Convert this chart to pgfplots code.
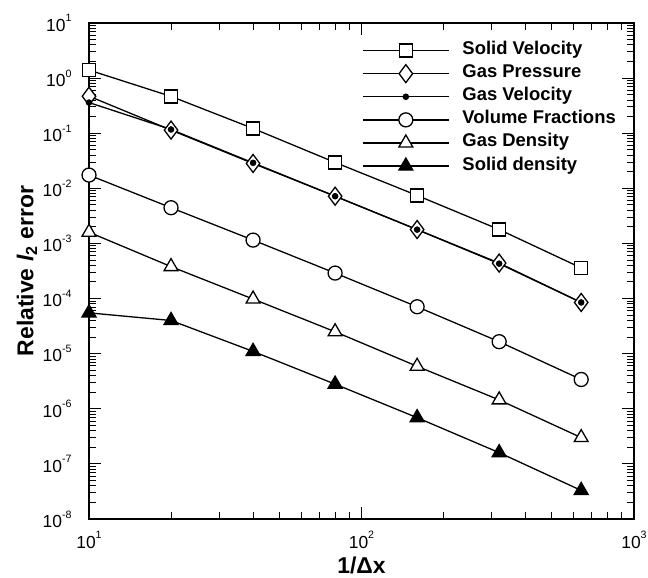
\documentclass[border=0pt]{standalone}
\usepackage{fontspec}
\setmainfont{Liberation Sans}
\usepackage{pgfplots}
\pgfplotsset{compat=1.18}

% 10^n in text font, with a small raised exponent
\newcommand{\tp}[1]{10\raisebox{0.53em}{\fontsize{10.7}{12}\selectfont #1}}

\begin{document}
\begin{tikzpicture}
\begin{axis}[
    scale only axis,
    width=545bp, height=496bp,
    xmode=log, ymode=log,
    xmin=10, xmax=1000,
    ymin=1e-8, ymax=10,
    axis line style={line width=1.6bp},
    tick pos=both,
    tick align=inside,
    major tick length=12bp,
    minor tick length=7bp,
    every tick/.style={black, line width=1bp},
    xtick={10,100,1000},
    xticklabels={\tp{1},\tp{2},\tp{3}},
    ytick={1e-8,1e-7,1e-6,1e-5,1e-4,1e-3,1e-2,1e-1,1,10},
    yticklabels={\tp{-8},\tp{-7},\tp{-6},\tp{-5},\tp{-4},\tp{-3},\tp{-2},\tp{-1},\tp{0},\tp{1}},
    tick label style={font=\fontsize{17.5}{20}\selectfont},
    xticklabel style={yshift=-9bp},
    yticklabel style={xshift=-14bp},
    xlabel={1/Δx},
    ylabel={Relative \textit{l}\textsubscript{2} error},
    xlabel style={at={(axis description cs:0.5,0)}, anchor=center, yshift=-46bp,
        font=\bfseries\fontsize{23}{26}\selectfont},
    ylabel style={at={(axis description cs:0,0.5)}, anchor=center, yshift=62bp,
        font=\bfseries\fontsize{23}{26}\selectfont},
    legend style={draw=none, fill=none, at={(0.4954,0.967)}, anchor=north west,
        font=\bfseries\fontsize{18.5}{22}\selectfont,
        nodes={inner sep=0pt, text height=13bp, text depth=5bp},
        row sep=5.1bp, column sep=13bp},
    legend cell align=left,
    legend image code/.code={%
        \draw[#1, mark repeat=2, mark phase=2] plot coordinates {(0bp,0bp) (43bp,0bp) (86bp,0bp)};},
    every axis plot/.append style={black, line width=1.3bp},
]
\addplot[mark=square*, mark size=6.5bp, mark options={fill=white, line width=1.3bp}] coordinates {
    (10,1.40) (20,0.466) (40,0.122) (80,0.0295) (160,0.00743) (320,0.00179) (640,0.00036)};
\addplot[mark=diamond*, mark size=9bp, mark options={fill=white, line width=1.3bp}] coordinates {
    (10,0.47) (20,0.114) (40,0.0283) (80,0.0072) (160,0.00179) (320,0.00044) (640,8.5e-5)};
\addplot[mark=*, mark size=2.6bp] coordinates {
    (10,0.36) (20,0.117) (40,0.029) (80,0.0072) (160,0.00178) (320,0.00043) (640,8.5e-5)};
\addplot[mark=*, mark size=7bp, mark options={fill=white, line width=1.3bp}] coordinates {
    (10,0.0174) (20,0.00445) (40,0.00115) (80,0.00029) (160,7.1e-5) (320,1.65e-5) (640,3.4e-6)};
\addplot[mark=triangle*, mark size=8bp, mark options={fill=white, line width=1.3bp}] coordinates {
    (10,0.0016) (20,0.00038) (40,9.8e-5) (80,2.5e-5) (160,5.9e-6) (320,1.45e-6) (640,3.0e-7)};
\addplot[mark=triangle*, mark size=8bp, mark options={fill=black}] coordinates {
    (10,5.5e-5) (20,4.0e-5) (40,1.1e-5) (80,2.8e-6) (160,6.9e-7) (320,1.6e-7) (640,3.3e-8)};
\legend{Solid Velocity, Gas Pressure, Gas Velocity, Volume Fractions, Gas Density, Solid density}
\end{axis}
\pgfresetboundingbox
\useasboundingbox ([shift={(-89bp,-59bp)}]current axis.south west) rectangle ([shift={(14bp,23bp)}]current axis.north east);
\end{tikzpicture}
\end{document}
